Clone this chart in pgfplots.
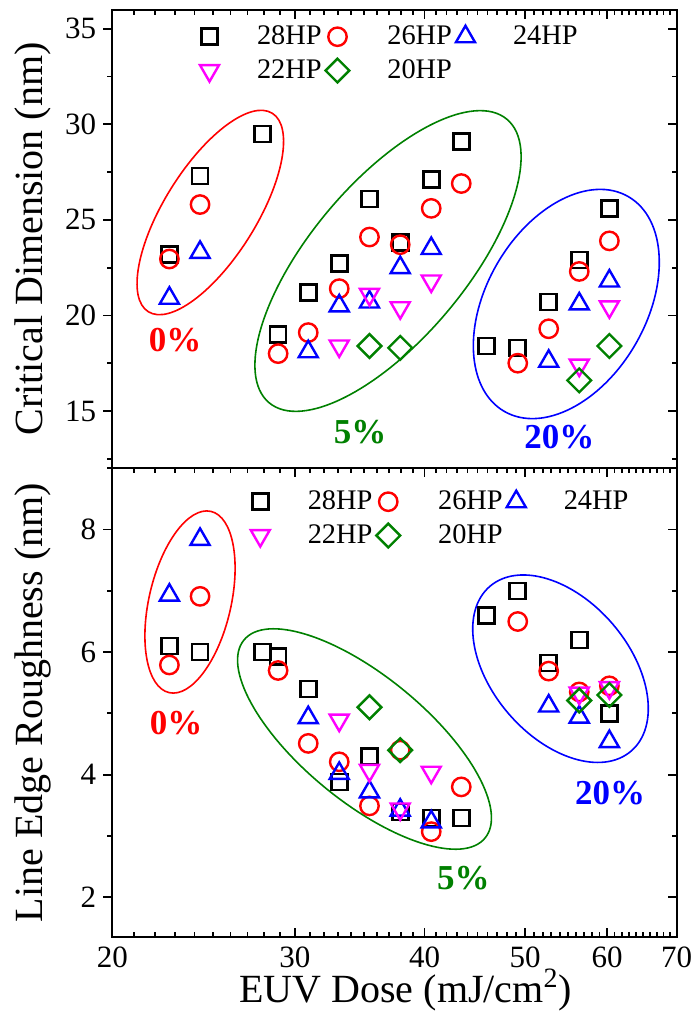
\documentclass[border=0pt]{standalone}
\usepackage{fontspec}
\setmainfont{Liberation Serif}
\usepackage{graphicx}
\usepackage{pgfplots}
\pgfplotsset{compat=1.18}
\definecolor{cgreen}{RGB}{0,128,0}
\definecolor{cmag}{RGB}{255,0,255}
\definecolor{cred}{RGB}{255,0,0}
\definecolor{cblue}{RGB}{0,0,255}
\newcommand{\legtxt}[1]{\hspace{17pt}\scalebox{1.35}{\fontsize{10.5}{12}\selectfont #1}}
\newcommand{\tf}[1]{\textrm{\fontsize{15.5}{18}\selectfont #1}}

\begin{document}
\begin{tikzpicture}
\path[use as bounding box] (0,0) rectangle (347pt,-508pt);

% ===== Upper panel =====
\begin{axis}[scale only axis, width=282.1pt, height=229.35pt,
  at={(56.15pt,-234.15pt)}, anchor=south west,
  xmode=log, xmin=20, xmax=70,
  xtick={20,30,40,50,60,70},
  minor xtick={21,22,23,24,25,26,27,28,29,31,32,33,34,35,36,37,38,39,41,42,43,44,45,46,47,48,49,51,52,53,54,55,56,57,58,59,61,62,63,64,65,66,67,68,69},
  ymin=12, ymax=36, ytick={15,20,25,30,35}, minor ytick={12.5,17.5,22.5,27.5,32.5},
  axis line style={line width=1pt},
  major tick style={black, line width=0.9pt}, minor tick style={black, line width=0.9pt},
  major tick length=4.5pt, minor tick length=2.5pt,
  tick align=inside, xtick pos=right, ytick pos=right,
  xticklabels={}, yticklabels={},
  legend style={draw=none, fill=none, row sep=2pt,
    at={(0.144,0.983)}, anchor=north west},
  legend columns=3,
  legend cell align=left]
\addplot[only marks, black, mark=square, mark size=4pt, line width=1.3pt] coordinates {(22.7,23.2)(24.3,27.3)(27.9,29.5)(28.9,19.0)(30.9,21.2)(33.1,22.7)(35.4,26.1)(37.9,23.8)(40.6,27.1)(43.4,29.1)(45.9,18.4)(49.2,18.3)(52.7,20.7)(56.4,22.9)(60.3,25.6)};
\addlegendentry{\legtxt{28HP}\hspace{26.5pt}}
\addplot[only marks, cred, mark=o, mark size=4.6pt, line width=1.2pt] coordinates {(22.7,22.95)(24.3,25.8)(28.9,18.0)(30.9,19.1)(33.1,21.4)(35.4,24.1)(37.9,23.7)(40.6,25.6)(43.4,26.9)(49.2,17.5)(52.7,19.3)(56.4,22.3)(60.3,23.9)};
\addlegendentry{\legtxt{26HP}\hspace{1pt}}
\addplot[only marks, cblue, mark=triangle, mark size=5.5pt, line width=1.2pt] coordinates {(22.7,20.9)(24.3,23.3)(30.9,18.1)(33.1,20.5)(35.4,20.7)(37.9,22.5)(40.6,23.5)(52.7,17.6)(56.4,20.6)(60.3,21.8)};
\addlegendentry{\legtxt{24HP}}
\addplot[only marks, cmag, mark=triangle, mark size=5.5pt, line width=1.2pt, mark options={rotate=180}] coordinates {(33.1,18.4)(35.4,21.1)(37.9,20.4)(40.6,21.8)(56.4,17.4)(60.3,20.45)};
\addlegendentry{\legtxt{22HP}\hspace{26.5pt}}
\addplot[only marks, cgreen, mark=square, mark size=4.2pt, line width=1.2pt, mark options={rotate=45}] coordinates {(35.4,18.4)(37.9,18.3)(56.4,16.6)(60.3,18.4)};
\addlegendentry{\legtxt{20HP}\hspace{1pt}}
\end{axis}
\begin{axis}[scale only axis, width=282.1pt, height=229.35pt,
  at={(56.15pt,-234.15pt)}, anchor=south west,
  xmin=20, xmax=70,
  ymin=12, ymax=36, ytick={15,20,25,30,35}, minor ytick={12.5,17.5,22.5,27.5,32.5},
  yticklabels={\tf{15},\tf{20},\tf{25},\tf{30},\tf{35}},
  axis line style={line width=1pt},
  major tick style={black, line width=0.9pt}, minor tick style={black, line width=0.9pt},
  major tick length=4.5pt, minor tick length=2.5pt,
  hide x axis, axis y line*=left, tick align=outside,
  ylabel={Critical Dimension (nm)},
  ylabel style={font=\fontsize{20}{24}\selectfont, at={(axis description cs:-0.14,0.5)}, anchor=center}]
\addplot[draw=none] coordinates {(30,20)};
\end{axis}

% ===== Lower panel =====
\begin{axis}[scale only axis, width=282.1pt, height=234.35pt,
  at={(56.15pt,-468.5pt)}, anchor=south west,
  xmode=log, xmin=20, xmax=70,
  xtick={20,30,40,50,60,70},
  minor xtick={21,22,23,24,25,26,27,28,29,31,32,33,34,35,36,37,38,39,41,42,43,44,45,46,47,48,49,51,52,53,54,55,56,57,58,59,61,62,63,64,65,66,67,68,69},
  ymin=1.35, ymax=9, ytick={2,4,6,8}, minor ytick={3,5,7,9},
  axis line style={line width=1pt},
  major tick style={black, line width=0.9pt}, minor tick style={black, line width=0.9pt},
  major tick length=4.5pt, minor tick length=2.5pt,
  tick align=inside, xtick pos=both, ytick pos=right,
  xticklabels={\tf{20},\tf{30},\tf{40},\tf{50},\tf{60},\tf{70}}, yticklabels={},
  xticklabel style={yshift=-1.5pt},
  xlabel={EUV Dose (mJ/cm\textsuperscript{2})},
  xlabel style={font=\fontsize{20}{24}\selectfont, at={(axis description cs:0.52,-0.114)}, anchor=center},
  legend style={draw=none, fill=none, row sep=2pt,
    at={(0.234,0.97)}, anchor=north west},
  legend columns=3,
  legend cell align=left]
\addplot[only marks, black, mark=square, mark size=4pt, line width=1.3pt] coordinates {(22.7,6.1)(24.3,6.0)(27.9,6.0)(28.9,5.93)(30.9,5.4)(33.1,3.88)(35.4,4.3)(37.9,3.39)(40.6,3.29)(43.4,3.29)(45.9,6.6)(49.2,7.0)(52.7,5.82)(56.4,6.2)(60.3,5.0)};
\addlegendentry{\legtxt{28HP}\hspace{26.5pt}}
\addplot[only marks, cred, mark=o, mark size=4.6pt, line width=1.2pt] coordinates {(22.7,5.79)(24.3,6.91)(28.9,5.7)(30.9,4.51)(33.1,4.21)(35.4,3.49)(37.9,4.4)(40.6,3.07)(43.4,3.8)(49.2,6.5)(52.7,5.69)(56.4,5.35)(60.3,5.45)};
\addlegendentry{\legtxt{26HP}\hspace{1pt}}
\addplot[only marks, cblue, mark=triangle, mark size=5.5pt, line width=1.2pt] coordinates {(22.7,6.93)(24.3,7.84)(30.9,4.93)(33.1,4.02)(35.4,3.72)(37.9,3.42)(40.6,3.23)(52.7,5.12)(56.4,4.94)(60.3,4.54)};
\addlegendentry{\legtxt{24HP}}
\addplot[only marks, cmag, mark=triangle, mark size=5.5pt, line width=1.2pt, mark options={rotate=180}] coordinates {(33.1,4.89)(35.4,4.07)(37.9,3.44)(40.6,4.04)(56.4,5.33)(60.3,5.42)};
\addlegendentry{\legtxt{22HP}\hspace{26.5pt}}
\addplot[only marks, cgreen, mark=square, mark size=4.2pt, line width=1.2pt, mark options={rotate=45}] coordinates {(35.4,5.10)(37.9,4.40)(56.4,5.21)(60.3,5.30)};
\addlegendentry{\legtxt{20HP}\hspace{1pt}}
\end{axis}
\begin{axis}[scale only axis, width=282.1pt, height=234.35pt,
  at={(56.15pt,-468.5pt)}, anchor=south west,
  xmin=20, xmax=70,
  ymin=1.35, ymax=9, ytick={2,4,6,8}, minor ytick={3,5,7,9},
  yticklabels={\tf{2},\tf{4},\tf{6},\tf{8}},
  axis line style={line width=1pt},
  major tick style={black, line width=0.9pt}, minor tick style={black, line width=0.9pt},
  major tick length=4.5pt, minor tick length=2.5pt,
  hide x axis, axis y line*=left, tick align=outside,
  ylabel={Line Edge Roughness (nm)},
  ylabel style={font=\fontsize{20}{24}\selectfont, at={(axis description cs:-0.14,0.5)}, anchor=center}]
\addplot[draw=none] coordinates {(30,5)};
\end{axis}

% ===== Group ellipses =====
\draw[cred, line width=0.8pt, rotate around={58:(105.15pt,-106.25pt)}] (105.15pt,-106.25pt) ellipse (58.5pt and 23pt);
\draw[cgreen, line width=0.8pt, rotate around={50:(194pt,-130.5pt)}] (194pt,-130.5pt) ellipse (92.5pt and 39pt);
\draw[cblue, line width=0.8pt, rotate around={60:(283.15pt,-152pt)}] (283.15pt,-152pt) ellipse (62pt and 40pt);
\draw[cred, line width=0.8pt, rotate around={77:(95pt,-301pt)}] (95pt,-301pt) ellipse (46.5pt and 20.5pt);
\draw[cgreen, line width=0.8pt, rotate around={-39.4:(182.25pt,-369.5pt)}] (182.25pt,-369.5pt) ellipse (78pt and 31.3pt);
\draw[cblue, line width=0.8pt, rotate around={-49.4:(280.25pt,-334.35pt)}] (280.25pt,-334.35pt) ellipse (54.25pt and 34.35pt);

% ===== Group labels =====
\node[text=cred, font=\fontsize{17.5}{20}\selectfont\bfseries] at (87.5pt,-170pt) {0\%};
\node[text=cgreen, font=\fontsize{17.5}{20}\selectfont\bfseries] at (180pt,-215.85pt) {5\%};
\node[text=cblue, font=\fontsize{17.5}{20}\selectfont\bfseries] at (279.65pt,-218.35pt) {20\%};
\node[text=cred, font=\fontsize{17.5}{20}\selectfont\bfseries] at (88pt,-361.5pt) {0\%};
\node[text=cgreen, font=\fontsize{17.5}{20}\selectfont\bfseries] at (231.65pt,-439.15pt) {5\%};
\node[text=cblue, font=\fontsize{17.5}{20}\selectfont\bfseries] at (305pt,-396.65pt) {20\%};
\end{tikzpicture}
\end{document}
